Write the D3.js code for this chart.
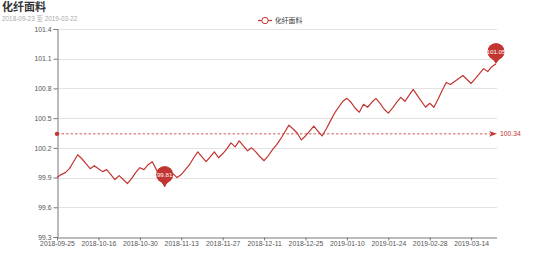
<!DOCTYPE html>
<html>
<head>
<meta charset="utf-8">
<script src="https://cdn.jsdelivr.net/npm/d3@7"></script>
<style>
  body { margin: 0; background: #fff; }
  text { font-family: "Liberation Sans", "Noto Sans CJK SC", sans-serif; }
</style>
</head>
<body>
<script>
const title = "化纤面料";
const subtitle = "2018-09-23 至 2019-03-22";
const seriesName = "化纤面料";

const dates = [
  "2018-09-25","2018-09-26","2018-09-27","2018-09-28","2018-10-08","2018-10-09","2018-10-10","2018-10-11","2018-10-12","2018-10-15",
  "2018-10-16","2018-10-17","2018-10-18","2018-10-19","2018-10-22","2018-10-23","2018-10-24","2018-10-25","2018-10-26","2018-10-29",
  "2018-10-30","2018-10-31","2018-11-01","2018-11-02","2018-11-05","2018-11-06","2018-11-07","2018-11-08","2018-11-09","2018-11-12",
  "2018-11-13","2018-11-14","2018-11-15","2018-11-16","2018-11-19","2018-11-20","2018-11-21","2018-11-22","2018-11-23","2018-11-26",
  "2018-11-27","2018-11-28","2018-11-29","2018-11-30","2018-12-03","2018-12-04","2018-12-05","2018-12-06","2018-12-07","2018-12-10",
  "2018-12-11","2018-12-12","2018-12-13","2018-12-14","2018-12-17","2018-12-18","2018-12-19","2018-12-20","2018-12-21","2018-12-24",
  "2018-12-25","2018-12-26","2018-12-27","2018-12-28","2019-01-02","2019-01-03","2019-01-04","2019-01-07","2019-01-08","2019-01-09",
  "2019-01-10","2019-01-11","2019-01-14","2019-01-15","2019-01-16","2019-01-17","2019-01-18","2019-01-21","2019-01-22","2019-01-23",
  "2019-01-24","2019-01-28","2019-01-30","2019-02-01","2019-02-12","2019-02-14","2019-02-18","2019-02-20","2019-02-22","2019-02-26",
  "2019-02-28","2019-03-01","2019-03-04","2019-03-05","2019-03-06","2019-03-07","2019-03-08","2019-03-11","2019-03-12","2019-03-13",
  "2019-03-14","2019-03-15","2019-03-18","2019-03-19","2019-03-20","2019-03-21","2019-03-22"
];

const values = [
  99.90, 99.93, 99.95, 99.99, 100.06, 100.13, 100.09, 100.04, 99.99, 100.02,
  99.99, 99.96, 99.98, 99.93, 99.88, 99.92, 99.88, 99.84, 99.89, 99.95,
  100.00, 99.98, 100.03, 100.06, 99.98, 99.90, 99.81, 99.92, 99.94, 99.90,
  99.93, 99.98, 100.03, 100.10, 100.16, 100.11, 100.06, 100.11, 100.16, 100.10,
  100.14, 100.19, 100.25, 100.21, 100.27, 100.22, 100.17, 100.20, 100.16, 100.11,
  100.07, 100.12, 100.18, 100.23, 100.29, 100.36, 100.43, 100.39, 100.35, 100.28,
  100.32, 100.37, 100.42, 100.37, 100.32, 100.39, 100.47, 100.55, 100.61, 100.67,
  100.70, 100.66, 100.60, 100.56, 100.64, 100.61, 100.66, 100.70, 100.65, 100.59,
  100.55, 100.60, 100.66, 100.71, 100.67, 100.73, 100.79, 100.73, 100.67, 100.61,
  100.65, 100.61, 100.69, 100.78, 100.86, 100.84, 100.87, 100.90, 100.93, 100.89,
  100.85, 100.90, 100.95, 101.00, 100.97, 101.02, 101.05
];

const yTicks = [99.3, 99.6, 99.9, 100.2, 100.5, 100.8, 101.1, 101.4];

const width = 554;
const height = 265;
const red = "#c23531";
const fs = 6.8;

const svg = d3.select("body")
    .append("svg")
    .attr("width", width)
    .attr("height", height);

// title
svg.append("text")
    .attr("x", 2).attr("y", 11)
    .attr("font-size", 11).attr("font-weight", "bold")
    .attr("fill", "#333")
    .text(title);

svg.append("text")
    .attr("x", 2).attr("y", 20.5)
    .attr("font-size", 6.4)
    .attr("fill", "#aaa")
    .text(subtitle);

// scales
const x = d3.scalePoint()
    .domain(dates)
    .range([57, 496]);

const y = d3.scaleLinear()
    .domain([99.3, 101.4])
    .range([237, 29]);

// grid lines
svg.append("g")
    .selectAll("line")
    .data(yTicks.slice(1))
    .enter()
    .append("line")
    .attr("x1", 57).attr("x2", 497)
    .attr("y1", d => Math.round(y(d)) + 0.5)
    .attr("y2", d => Math.round(y(d)) + 0.5)
    .attr("stroke", "#e3e3e3")
    .attr("stroke-width", 1);

// y axis
const yAxis = svg.append("g")
    .attr("transform", "translate(57.5,0)")
    .call(d3.axisLeft(y).tickValues(yTicks).tickFormat(d3.format(".1f")).tickSize(4).tickPadding(2));

// x axis
const xAxis = svg.append("g")
    .attr("transform", `translate(0,${Math.round(y(99.3)) + 0.5})`)
    .call(d3.axisBottom(x)
        .tickValues(dates.filter((d, i) => i % 10 === 0))
        .tickSize(3).tickPadding(1));

[yAxis, xAxis].forEach(g => {
    g.select(".domain").attr("stroke", "#777");
    g.selectAll(".tick line").attr("stroke", "#777");
    g.selectAll("text").attr("font-size", fs).attr("fill", "#555")
        .attr("font-family", "'Liberation Sans', 'Noto Sans CJK SC', sans-serif");
});
xAxis.select(".domain").attr("d", "M57,0.5H497");

// line
const line = d3.line()
    .x((d, i) => x(dates[i]))
    .y(d => y(d));

svg.append("path")
    .datum(values)
    .attr("fill", "none")
    .attr("stroke", red)
    .attr("stroke-width", 1.2)
    .attr("stroke-linejoin", "round")
    .attr("d", line);

// average line
const avg = d3.mean(values);
const ay = y(avg);
svg.append("line")
    .attr("x1", 57).attr("x2", 490)
    .attr("y1", ay).attr("y2", ay)
    .attr("stroke", red)
    .attr("stroke-width", 0.8)
    .attr("stroke-dasharray", "2.5,2");
svg.append("circle")
    .attr("cx", 57).attr("cy", ay).attr("r", 2.2)
    .attr("fill", red);
svg.append("path")
    .attr("d", `M489,${ay - 2.8}L497,${ay}L489,${ay + 2.8}L491,${ay}Z`)
    .attr("fill", red);
svg.append("text")
    .attr("x", 500).attr("y", ay + 2.3)
    .attr("font-size", fs)
    .attr("fill", red)
    .text(d3.format(".2f")(avg));

// max / min pins
function pinPath(px, py, r, D) {
    const cy = py - D;
    const dy = r * r / D;
    const dx = Math.sqrt(r * r - dy * dy);
    return `M${px - dx},${cy + dy}A${r},${r} 0 1 1 ${px + dx},${cy + dy}` +
        `Q${px + dx * 0.25},${py - D * 0.3} ${px},${py}` +
        `Q${px - dx * 0.25},${py - D * 0.3} ${px - dx},${cy + dy}Z`;
}

const pins = [d3.maxIndex(values), d3.minIndex(values)];
pins.forEach(i => {
    const px = x(dates[i]);
    const py = y(values[i]);
    svg.append("path")
        .attr("d", pinPath(px, py, 8.6, 12))
        .attr("fill", red);
    svg.append("text")
        .attr("x", px).attr("y", py - 12 + 2.2)
        .attr("text-anchor", "middle")
        .attr("font-size", 6.2)
        .attr("fill", "#fff")
        .text(d3.format(".2f")(values[i]));
});

// legend
const lg = svg.append("g").attr("transform", "translate(258,20.5)");
lg.append("line")
    .attr("x1", 0).attr("x2", 14)
    .attr("stroke", red).attr("stroke-width", 1.2);
lg.append("circle")
    .attr("cx", 7).attr("r", 3.2)
    .attr("fill", "#fff").attr("stroke", red).attr("stroke-width", 1);
lg.append("text")
    .attr("x", 17).attr("y", 2.3)
    .attr("font-size", fs)
    .attr("fill", "#333")
    .text(seriesName);
</script>
</body>
</html>
